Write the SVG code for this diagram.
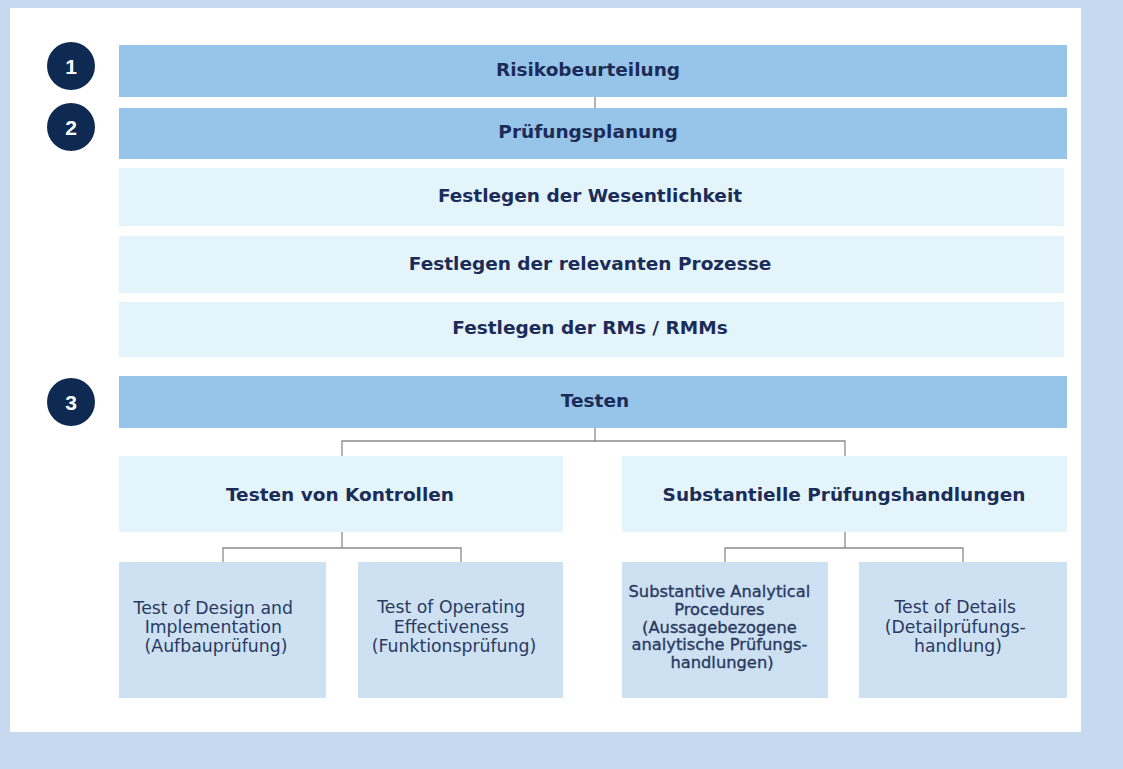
<svg xmlns="http://www.w3.org/2000/svg" width="1123" height="769" viewBox="0 0 1123 769">
  <style>
    .dark { fill: #97c4e9; }
    .pale { fill: #e4f4fb; }
    .leaf { fill: #cde1f2; }
    .head { font-family: "DejaVu Sans", Verdana, sans-serif; font-weight: bold; fill: #1c2c58; text-anchor: middle; font-size: 18.5px; }
    .body { font-family: "DejaVu Sans", Verdana, sans-serif; fill: #2a3a62; text-anchor: middle; font-size: 17.3px; }
    .dense { font-size: 16.3px; stroke: #2a3a62; stroke-width: 0.35; }
    .num { font-family: "Liberation Sans", Arial, sans-serif; font-weight: bold; fill: #ffffff; text-anchor: middle; font-size: 21px; }
    .conn { fill: none; stroke: #8a8a8a; stroke-width: 1.3; }
  </style>

  <!-- page background and white panel -->
  <rect x="0" y="0" width="1123" height="769" fill="#c6d9ef"/>
  <rect x="10" y="8" width="1071" height="724" fill="#ffffff"/>

  <!-- connectors -->
  <g id="connectors">
    <path class="conn" d="M595 97 V108"/>
    <path class="conn" d="M595 428 V441 M342 456 V441 H845 V456"/>
    <path class="conn" d="M342 532 V548 M223 562 V548 H461 V562"/>
    <path class="conn" d="M845 532 V548 M725 562 V548 H963 V562"/>
  </g>

  <!-- step markers -->
  <g id="step1">
    <circle cx="71" cy="66" r="24" fill="#0e2a52"/>
    <text class="num" x="71" y="74">1</text>
  </g>
  <g id="step2">
    <circle cx="71" cy="127" r="24" fill="#0e2a52"/>
    <text class="num" x="71" y="135">2</text>
  </g>
  <g id="step3">
    <circle cx="71" cy="402" r="24" fill="#0e2a52"/>
    <text class="num" x="71" y="410">3</text>
  </g>

  <!-- phase bars -->
  <g id="risikobeurteilung">
    <rect class="dark" x="119" y="45" width="948" height="52"/>
    <text class="head" x="588" y="76">Risikobeurteilung</text>
  </g>
  <g id="pruefungsplanung">
    <rect class="dark" x="119" y="108" width="948" height="51"/>
    <text class="head" x="588" y="138">Prüfungsplanung</text>
  </g>
  <g id="wesentlichkeit">
    <rect class="pale" x="119" y="168" width="945" height="58"/>
    <text class="head" x="590" y="202">Festlegen der Wesentlichkeit</text>
  </g>
  <g id="prozesse">
    <rect class="pale" x="119" y="236" width="945" height="57"/>
    <text class="head" x="590" y="270">Festlegen der relevanten Prozesse</text>
  </g>
  <g id="rms">
    <rect class="pale" x="119" y="302" width="945" height="55"/>
    <text class="head" x="590" y="334">Festlegen der RMs / RMMs</text>
  </g>
  <g id="testen">
    <rect class="dark" x="119" y="376" width="948" height="52"/>
    <text class="head" x="595" y="407">Testen</text>
  </g>

  <!-- test branches -->
  <g id="kontrollen">
    <rect class="pale" x="119" y="456" width="444" height="76"/>
    <text class="head" x="340" y="501">Testen von Kontrollen</text>
  </g>
  <g id="substantielle">
    <rect class="pale" x="622" y="456" width="445" height="76"/>
    <text class="head" x="844" y="501">Substantielle Prüfungshandlungen</text>
  </g>

  <!-- leaf procedures -->
  <g id="design">
    <rect class="leaf" x="119" y="562" width="207" height="136"/>
    <text class="body" x="216" y="614">
      <tspan x="216">Test of Design and</tspan>
      <tspan x="216" dy="19">Implementation</tspan>
      <tspan x="216" dy="19">(Aufbauprüfung)</tspan>
    </text>
  </g>
  <g id="operating">
    <rect class="leaf" x="358" y="562" width="205" height="136"/>
    <text class="body" x="454" y="613">
      <tspan x="454">Test of Operating</tspan>
      <tspan x="454" dy="19.5">Effectiveness</tspan>
      <tspan x="454" dy="19.5">(Funktionsprüfung)</tspan>
    </text>
  </g>
  <g id="analytical">
    <rect class="leaf" x="622" y="562" width="206" height="136"/>
    <text class="body dense" x="722" y="597">
      <tspan x="722">Substantive Analytical</tspan>
      <tspan x="722" dy="17.8">Procedures</tspan>
      <tspan x="722" dy="17.8">(Aussagebezogene</tspan>
      <tspan x="722" dy="17.8">analytische Prüfungs-</tspan>
      <tspan x="722" dy="17.8">handlungen)</tspan>
    </text>
  </g>
  <g id="details">
    <rect class="leaf" x="859" y="562" width="208" height="136"/>
    <text class="body" x="958" y="613">
      <tspan x="958">Test of Details</tspan>
      <tspan x="958" dy="19.5">(Detailprüfungs-</tspan>
      <tspan x="958" dy="19.5">handlung)</tspan>
    </text>
  </g>
</svg>
